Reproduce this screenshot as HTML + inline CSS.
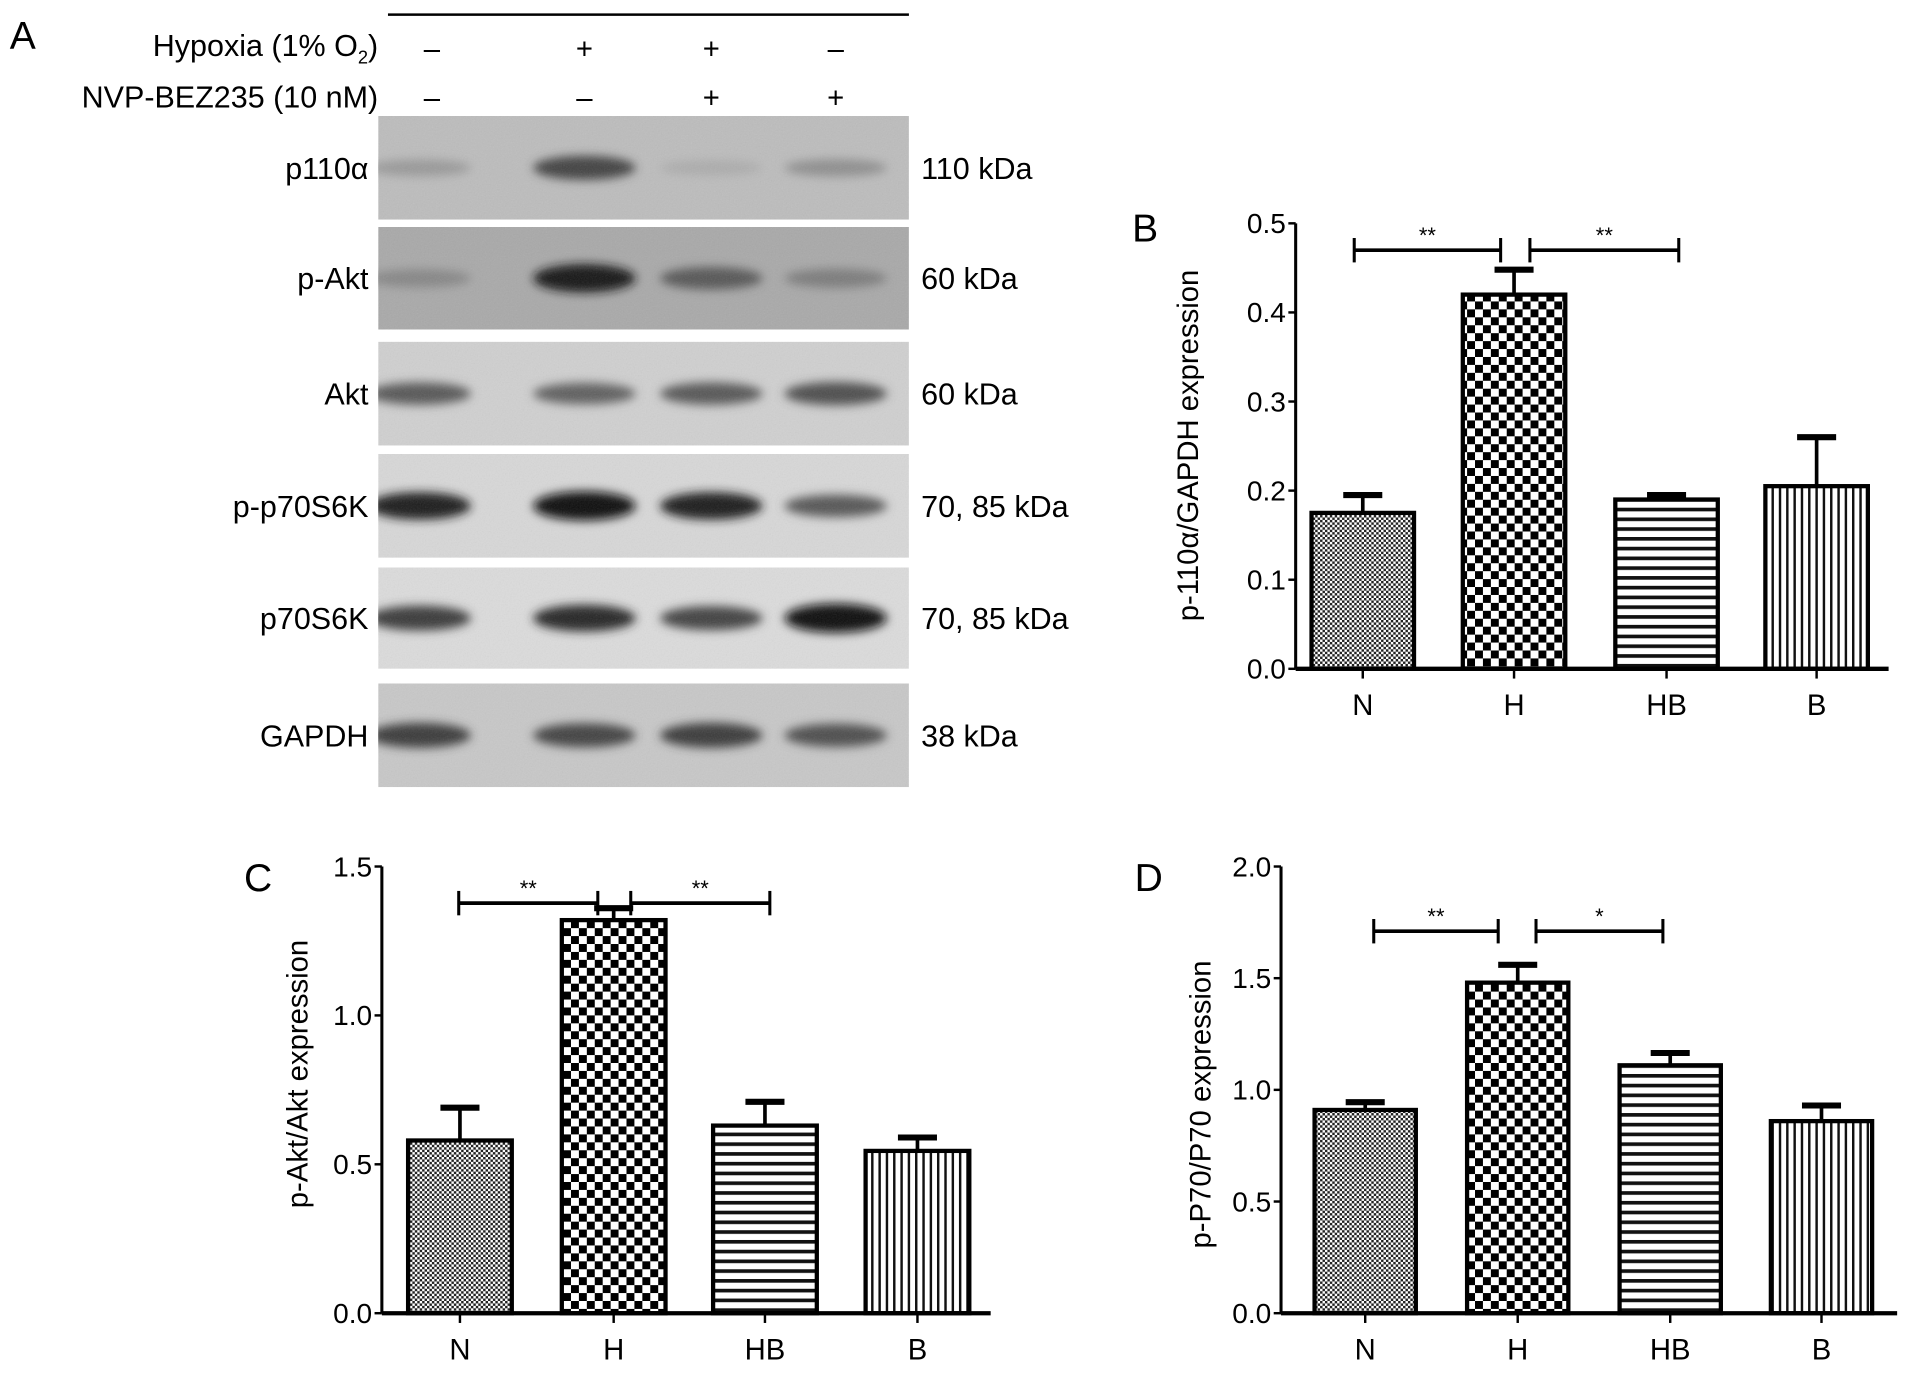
<!DOCTYPE html>
<html><head><meta charset="utf-8"><style>
html,body{margin:0;padding:0;background:#fff;}
svg{display:block;font-family:"Liberation Sans",Arial,sans-serif;}
</style></head><body>
<svg id="fig" width="1913" height="1373" viewBox="0 0 1568 1125" preserveAspectRatio="none" xmlns="http://www.w3.org/2000/svg">
<defs>
<pattern id="pN" width="4" height="4" patternUnits="userSpaceOnUse"><rect width="4" height="4" fill="#fff"/><rect width="2" height="2" fill="#222"/><rect x="2" y="2" width="2" height="2" fill="#222"/></pattern>
<pattern id="pH" width="13" height="13" patternUnits="userSpaceOnUse"><rect width="13" height="13" fill="#fff"/><rect width="6.5" height="6.5" fill="#000"/><rect x="6.5" y="6.5" width="6.5" height="6.5" fill="#000"/></pattern>
<pattern id="pHB" width="8" height="8" patternUnits="userSpaceOnUse"><rect width="8" height="8" fill="#fff"/><rect width="8" height="3" fill="#111"/></pattern>
<pattern id="pB" width="6" height="6" patternUnits="userSpaceOnUse"><rect width="6" height="6" fill="#fff"/><rect width="2" height="6" fill="#111"/></pattern>
<filter id="blur" x="-50%" y="-100%" width="200%" height="300%"><feGaussianBlur stdDeviation="4"/></filter>
<filter id="noise" x="0" y="0" width="1" height="1" filterUnits="objectBoundingBox"><feTurbulence type="fractalNoise" baseFrequency="0.9" numOctaves="2" result="n"/><feColorMatrix type="saturate" values="0"/><feComponentTransfer><feFuncA type="linear" slope="0.25"/></feComponentTransfer></filter>
</defs>

<!-- Panel A -->
<text x="8" y="40" font-size="32">A</text>
<line x1="318" y1="12" x2="745" y2="12" stroke="#000" stroke-width="2"/>
<text x="310" y="46" font-size="25" text-anchor="end">Hypoxia (1% O<tspan font-size="15" dy="6">2</tspan><tspan dy="-6">)</tspan></text>
<text x="310" y="88" font-size="25" text-anchor="end">NVP-BEZ235 (10 nM)</text>
<g id="signs" font-size="24" text-anchor="middle"></g>
<g id="blots"></g>

<g id="chartB"></g>
<g id="chartC"></g>
<g id="chartD"></g>
</svg>
<script>
const categories = ["N","H","HB","B"];
const hypoxiaSigns = ["–","+","+","–"];
const nvpSigns = ["–","–","+","+"];
const blotNames = ["p110α","p-Akt","Akt","p-p70S6K","p70S6K","GAPDH"];
const blotKda = ["110 kDa","60 kDa","60 kDa","70, 85 kDa","70, 85 kDa","38 kDa"];
const blotIntensity = [[0.25,0.7,0.15,0.3],[0.35,0.95,0.6,0.4],[0.6,0.55,0.6,0.65],[0.9,1.0,0.9,0.6],[0.75,0.85,0.7,1.0],[0.75,0.7,0.75,0.65]];
const valuesB = [0.175,0.42,0.19,0.205];
const errorsB = [0.02,0.028,0.005,0.055];
const valuesC = [0.58,1.32,0.63,0.545];
const errorsC = [0.11,0.04,0.08,0.045];
const valuesD = [0.91,1.48,1.11,0.86];
const errorsD = [0.035,0.08,0.055,0.07];
const ticksB = ["0.0","0.1","0.2","0.3","0.4","0.5"];
const ticksC = ["0.0","0.5","1.0","1.5"];
const ticksD = ["0.0","0.5","1.0","1.5","2.0"];

const NS="http://www.w3.org/2000/svg";
function mk(tag, attrs, parent){const e=document.createElementNS(NS,tag);for(const k in attrs)e.setAttribute(k,attrs[k]);parent.appendChild(e);return e;}

const signsG=document.getElementById('signs');
const laneX=[354,479,583,685];
hypoxiaSigns.forEach((s,i)=>{const t=mk('text',{x:laneX[i],y:48},signsG);t.textContent=s;

});
nvpSigns.forEach((s,i)=>{const t=mk('text',{x:laneX[i],y:88},signsG);t.textContent=s;

});

const blotsG=document.getElementById('blots');
const rowTop=[95,186,280,372,465,560], rowH=[85,84,85,85,83,85];
const bg=["#bdbdbd","#a9a9a9","#d0d0d0","#d8d8d8","#dcdcdc","#c8c8c8"];
blotNames.forEach((n,r)=>{
  const g=mk('g',{},blotsG);
  
  
  mk('svg',{x:310,y:rowTop[r],width:435,height:rowH[r],viewBox:`310 ${rowTop[r]} 435 ${rowH[r]}`,overflow:'hidden'},g);
  const inner=g.lastChild;
  mk('rect',{x:310,y:rowTop[r],width:435,height:rowH[r],fill:bg[r]},inner);
  const cy=rowTop[r]+rowH[r]/2;
  blotIntensity[r].forEach((v,i)=>{
    const c=Math.round(200-190*v);
    mk('ellipse',{cx:laneX[i]+(i===0?-10:0),cy:cy,rx:42,ry:5+7*v,fill:`rgb(${c},${c},${c})`,filter:'url(#blur)'},inner);
  });
  mk('rect',{x:310,y:rowTop[r],width:435,height:rowH[r],filter:'url(#noise)',opacity:0.6},inner);
  const t=mk('text',{x:302,y:cy+9,'font-size':25,'text-anchor':'end'},blotsG);t.textContent=n;
  
  
  const k=mk('text',{x:755,y:cy+9,'font-size':25},blotsG);k.textContent=blotKda[r];
  
  
});

const pats=["url(#pN)","url(#pH)","url(#pHB)","url(#pB)"];
function chart(gid,cfg){
  const g=document.getElementById(gid);
  const y=v=>cfg.y0-(v/cfg.max)*(cfg.y0-cfg.yTop);
  const ya=mk('line',{x1:cfg.ax,y1:cfg.yTop,x2:cfg.ax,y2:cfg.y0,stroke:'#000','stroke-width':2.5},g);
  
  
  cfg.ticks.forEach(tk=>{const v=parseFloat(tk);const yy=y(v);
    mk('line',{x1:cfg.ax-6,y1:yy,x2:cfg.ax,y2:yy,stroke:'#000','stroke-width':2},g);
    const t=mk('text',{x:cfg.ax-8,y:yy+8,'font-size':23,'text-anchor':'end'},g);t.textContent=tk;
    
    });
  cfg.vals.forEach((v,i)=>{
    const cx=cfg.cx[i], w=cfg.bw;
    const top=y(v), et=y(v+cfg.errs[i]);
    mk('line',{x1:cx,y1:top,x2:cx,y2:et,stroke:'#000','stroke-width':3},g);
    mk('line',{x1:cx-16,y1:et,x2:cx+16,y2:et,stroke:'#000','stroke-width':5},g);
    const b=mk('rect',{x:cx-w/2,y:top,width:w,height:cfg.y0-top,fill:pats[i],stroke:'#000','stroke-width':3.5},g);
    
    
    mk('line',{x1:cx,y1:cfg.y0,x2:cx,y2:cfg.y0+8,stroke:'#000','stroke-width':2},g);
    const t=mk('text',{x:cx,y:cfg.y0+38,'font-size':24,'text-anchor':'middle'},g);t.textContent=categories[i];
    
    
  });
  const xa=mk('line',{x1:cfg.ax,y1:cfg.y0,x2:cfg.xEnd,y2:cfg.y0,stroke:'#000','stroke-width':3.5},g);
  
  
  cfg.brackets.forEach(bk=>{
    mk('line',{x1:bk[0],y1:bk[2],x2:bk[1],y2:bk[2],stroke:'#000','stroke-width':3},g);
    mk('line',{x1:bk[0],y1:bk[2]-10,x2:bk[0],y2:bk[2]+10,stroke:'#000','stroke-width':2.5},g);
    mk('line',{x1:bk[1],y1:bk[2]-10,x2:bk[1],y2:bk[2]+10,stroke:'#000','stroke-width':2.5},g);
    const t=mk('text',{x:(bk[0]+bk[1])/2,y:bk[2]-6,'font-size':18,'text-anchor':'middle'},g);t.textContent=bk[3];
    
    
  });
  const l=mk('text',{x:cfg.lx,y:cfg.ly,'font-size':24,'text-anchor':'middle',transform:`rotate(-90 ${cfg.lx} ${cfg.ly})`},g);l.textContent=cfg.label;
  
  
  const p=mk('text',{x:cfg.px,y:cfg.py,'font-size':32},g);p.textContent=cfg.panel;
  
  
}
chart('chartB',{ax:1062,yTop:183,y0:548,max:0.5,xEnd:1548,bw:84,cx:[1117,1241,1366,1489],vals:valuesB,errs:errorsB,ticks:ticksB,
  brackets:[[1110,1230,205,"**"],[1254,1376,205,"**"]],label:"p-110α/GAPDH expression",lx:982,ly:365,panel:"B",px:928,py:198});
chart('chartC',{ax:313,yTop:710,y0:1076,max:1.5,xEnd:812,bw:85,cx:[377,503,627,752],vals:valuesC,errs:errorsC,ticks:ticksC,
  brackets:[[376,490,740,"**"],[517,631,740,"**"]],label:"p-Akt/Akt expression",lx:252,ly:880,panel:"C",px:200,py:730});
chart('chartD',{ax:1050,yTop:710,y0:1076,max:2.0,xEnd:1555,bw:83,cx:[1119,1244,1369,1493],vals:valuesD,errs:errorsD,ticks:ticksD,
  brackets:[[1126,1228,763,"**"],[1259,1363,763,"*"]],label:"p-P70/P70 expression",lx:992,ly:905,panel:"D",px:930,py:730});
</script>
</body></html>
